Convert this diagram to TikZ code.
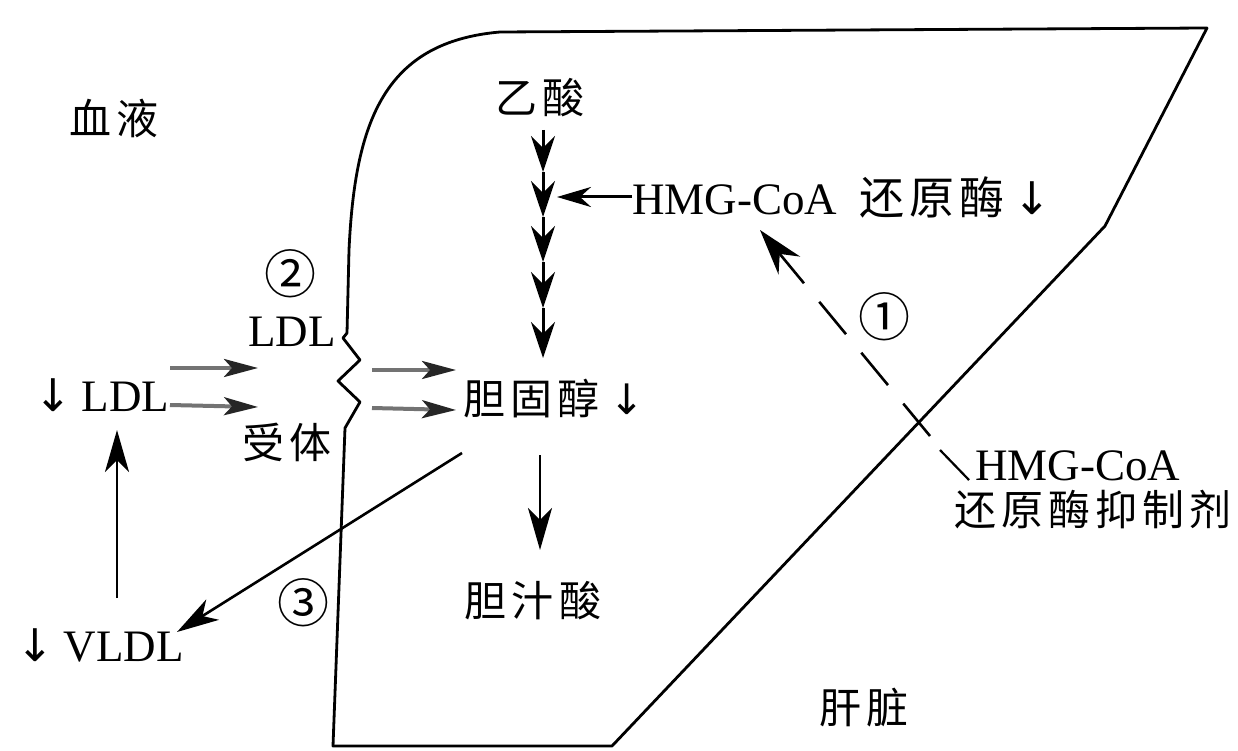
\documentclass[tikz,border=0pt]{standalone}
\usepackage{fontspec}
\setmainfont{Liberation Serif}
\newfontfamily\cjk[LetterSpace=12]{Noto Sans CJK SC}
\newfontfamily\cjkplain{Noto Sans CJK SC}
\newfontfamily\symfont{DejaVu Sans}
\usetikzlibrary{arrows.meta}
\begin{document}
\begin{tikzpicture}[x=1pt,y=-1pt,
  zh/.style={inner sep=0pt, font=\fontsize{42}{50}\selectfont\cjk},
  lat/.style={inner sep=0pt, font=\fontsize{45}{54}\selectfont},
  num/.style={inner sep=0pt, font=\fontsize{52}{60}\selectfont\cjkplain},
  outline/.style={line width=2.8pt, line join=round},
  chain/.style={line width=3pt, -{Stealth[length=36pt,width=24pt,inset=12pt]}},
  plain/.style={line width=2.6pt, -{Stealth[length=42pt,width=24pt,inset=12pt]}},
  rec/.style={line width=4pt, draw=black!55, -{Stealth[length=34pt,width=18pt,inset=8pt,color=black!85]}},
  dashline/.style={line width=2.6pt, dash pattern=on 42pt off 24pt, -{Stealth[length=46pt,width=28pt,inset=15pt]}}
]
\useasboundingbox (0,0) rectangle (1238,751);
\fill[white] (0,0) rectangle (1238,751);

% liver outline with receptor zigzag
\draw[outline] (347,333) -- (349,250) .. controls (355,120) and (385,42) .. (500,32)
  -- (1207,28) -- (1105,226) -- (612,746) -- (333,746) -- (345,428)
  -- (360,402) -- (338,381) -- (360,360) -- (343,338) -- cycle;

% labels
\node[zh] (blood) at (114,118) {血液};
\node[zh] (acetic) at (540,98) {乙酸};
\node[zh, anchor=west] (chol) at (463,398) {胆固醇\hspace{10pt}{\symfont↓}};
\node[zh] (bile) at (533,601) {胆汁酸};
\node[zh] (liver) at (864,708) {肝脏};
\node[lat, anchor=west] (hmg) at (632,197) {HMG-CoA\hspace{22pt}{\cjk 还原酶}\hspace{8pt}{\symfont↓}};
\node[lat, anchor=west] (ldl) at (34,395) {{\symfont↓}\hspace{10pt}LDL};
\node[lat, anchor=west] (vldl) at (16,645) {{\symfont↓}\hspace{10pt}VLDL};
\node[lat] (rldl) at (292,332) {LDL};
\node[zh] (rec) at (287,442) {受体};
\node[num] (n2) at (290,274) {②};
\node[num] (n3) at (303,603) {③};
\node[num] (n1) at (884,317) {①};
\node[lat, anchor=west] (inhA) at (975,466) {HMG-CoA};
\node[zh] (inhB) at (1093,510) {还原酶抑制剂};

% synthesis chain
\coordinate (c0) at (543,130);
\coordinate (c1) at (543,172);
\coordinate (c2) at (543,217);
\coordinate (c3) at (543,262);
\coordinate (c4) at (543,308);
\coordinate (c5) at (543,358);
\draw[chain] (c0) -- (c1);
\draw[chain] (c1) -- (c2);
\draw[chain] (c2) -- (c3);
\draw[chain] (c3) -- (c4);
\draw[chain] (c4) -- (c5);
\coordinate (hmgtip) at (557,197);
\draw[line width=3pt, -{Stealth[length=34pt,width=20pt,inset=11pt]}] (hmg.west) -- (hmgtip);

% cholesterol to bile acid
\coordinate (ba0) at (540,455);
\coordinate (ba1) at (540,550);
\draw[plain] (ba0) -- (ba1);

% LDL uptake through receptor
\coordinate (la1) at (170,368);
\coordinate (la2) at (258,368);
\coordinate (lb1) at (170,405);
\coordinate (lb2) at (258,407);
\coordinate (ra1) at (372,370);
\coordinate (ra2) at (456,370);
\coordinate (rb1) at (372,408);
\coordinate (rb2) at (456,410);
\draw[rec] (la1) -- (la2);
\draw[rec] (lb1) -- (lb2);
\draw[rec] (ra1) -- (ra2);
\draw[rec] (rb1) -- (rb2);

% VLDL -> LDL
\coordinate (v0) at (117,598);
\coordinate (v1) at (117,430);
\draw[plain] (v0) -- (v1);

% cholesterol -> VLDL
\coordinate (d0) at (462,453);
\coordinate (d1) at (177,632);
\draw[plain] (d0) -- (d1);

% inhibitor dashed arrow
\coordinate (i0) at (930,436);
\coordinate (i1) at (760,230);
\draw[dashline] (i0) -- (i1);
\coordinate (t0) at (940,450);
\coordinate (t1) at (969,480);
\draw[line width=2.2pt] (t0) -- (t1);
\end{tikzpicture}
\end{document}
